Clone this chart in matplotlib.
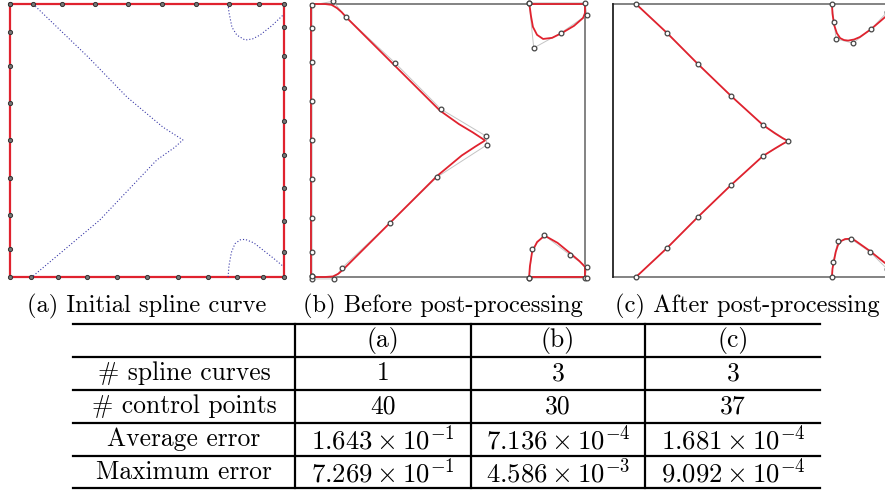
import matplotlib
matplotlib.use("Agg")
from matplotlib import pyplot as plt

plt.rcParams['font.family'] = ['cmr10', 'DejaVu Serif']
plt.rcParams['mathtext.fontset'] = 'cm'
plt.rcParams['axes.formatter.use_mathtext'] = True

# ---- panel (a): initial control polygon (on the square) and spline curve
a_ctrl_x = [0, 0.084, 0.19, 0.31, 0.431, 0.555, 0.679, 0.799, 0.909, 1.0,
            1, 1, 1, 1, 1, 1, 1, 1,
            1.0, 0.923, 0.828, 0.723, 0.613, 0.5, 0.39, 0.281, 0.175, 0.077, 0,
            0, 0, 0, 0, 0, 0, 0, 0]
a_ctrl_y = [1, 1, 1, 1, 1, 1, 1, 1, 1, 1,
            0.916, 0.81, 0.692, 0.571, 0.447, 0.326, 0.205, 0.092,
            0, 0, 0, 0, 0, 0, 0, 0, 0, 0, 0,
            0.103, 0.227, 0.363, 0.502, 0.637, 0.773, 0.897, 1]

a_curve_v_x = [0.084, 0.285, 0.427, 0.558, 0.60, 0.631, 0.60, 0.536, 0.328, 0.080]
a_curve_v_y = [1.0, 0.806, 0.659, 0.549, 0.522, 0.502, 0.474, 0.429, 0.209, 0.0]
a_curve_tr_x = [0.796, 0.799, 0.810, 0.828, 0.858, 0.885, 0.912, 0.955, 0.996]
a_curve_tr_y = [1.0, 0.97, 0.915, 0.886, 0.868, 0.872, 0.886, 0.92, 0.959]
a_curve_br_x = [0.796, 0.799, 0.808, 0.821, 0.840, 0.858, 0.890, 0.923, 0.960, 0.996]
a_curve_br_y = [0.0, 0.04, 0.09, 0.122, 0.136, 0.138, 0.125, 0.099, 0.07, 0.04]

# ---- panel (b): before post-processing
b_ctrl_main_x = [0.004, 0.004, 0.004, 0.004, 0.004, 0.004, 0.004, 0.004, 0.004,
                 0.080, 0.128, 0.307, 0.474, 0.639, 0.642, 0.460, 0.288, 0.113, 0.084,
                 0.004, 0.004]
b_ctrl_main_y = [0.004, 0.092, 0.216, 0.359, 0.502, 0.645, 0.788, 0.912, 0.996,
                 1.01, 0.952, 0.784, 0.615, 0.516, 0.484, 0.366, 0.198, 0.033, -0.007,
                 -0.007, 0.004]
b_ctrl_tr_x = [0.796, 0.813, 0.912, 1.007, 1.0, 0.796]
b_ctrl_tr_y = [1.004, 0.839, 0.894, 0.960, 1.004, 1.004]
b_ctrl_br_x = [0.796, 0.807, 0.850, 0.945, 1.007, 1.0, 1.007, 0.796]
b_ctrl_br_y = [-0.004, 0.103, 0.154, 0.081, 0.037, -0.004, -0.004, -0.004]

b_curve_main_x = [0, 0, 0.05, 0.075, 0.095, 0.112, 0.13, 0.30, 0.47, 0.54, 0.59, 0.625, 0.635,
                  0.60, 0.55, 0.46, 0.29, 0.12, 0.10, 0.08, 0.05, 0]
b_curve_main_y = [0, 1.0, 1.0, 0.997, 0.985, 0.97, 0.95, 0.78, 0.61, 0.56, 0.53, 0.507, 0.50,
                  0.478, 0.445, 0.37, 0.20, 0.03, 0.012, 0.002, 0.0, 0]
b_curve_tr_x = [0.796, 0.799, 0.803, 0.810, 0.825, 0.847, 0.880, 0.916, 0.960, 0.993, 1.0, 1.0, 0.796]
b_curve_tr_y = [1.0, 0.985, 0.955, 0.916, 0.887, 0.872, 0.876, 0.894, 0.92, 0.949, 0.967, 1.0, 1.0]
b_curve_br_x = [0.796, 0.799, 0.807, 0.825, 0.845, 0.861, 0.900, 0.945, 0.980, 1.0, 1.0, 0.796]
b_curve_br_y = [0.0, 0.04, 0.092, 0.128, 0.145, 0.147, 0.125, 0.088, 0.058, 0.037, 0.0, 0.0]

# ---- panel (c): after post-processing
c_ctrl_main_x = [0.084, 0.197, 0.310, 0.431, 0.547, 0.639, 0.547, 0.431, 0.310, 0.197, 0.084]
c_ctrl_main_y = [1.0, 0.894, 0.780, 0.663, 0.557, 0.498, 0.443, 0.337, 0.220, 0.106, 0.0]
c_ctrl_tr_x = [0.799, 0.807, 0.814, 0.876, 0.942, 1.0]
c_ctrl_tr_y = [1.0, 0.934, 0.872, 0.857, 0.908, 0.97]
c_ctrl_br_x = [0.799, 0.803, 0.821, 0.869, 0.938, 1.0]
c_ctrl_br_y = [0.0, 0.055, 0.132, 0.139, 0.092, 0.03]

c_curve_main_x = [0.084, 0.197, 0.310, 0.431, 0.547, 0.59, 0.62, 0.639,
                  0.62, 0.59, 0.547, 0.431, 0.310, 0.197, 0.084]
c_curve_main_y = [1.0, 0.894, 0.780, 0.663, 0.557, 0.527, 0.508, 0.498,
                  0.488, 0.47, 0.443, 0.337, 0.220, 0.106, 0.0]
c_curve_tr_x = [0.799, 0.801, 0.807, 0.817, 0.829, 0.843, 0.858, 0.880, 0.901, 0.942, 0.993]
c_curve_tr_y = [1.0, 0.965, 0.923, 0.893, 0.875, 0.868, 0.866, 0.870, 0.879, 0.908, 0.952]
c_curve_br_x = [0.799, 0.801, 0.807, 0.813, 0.821, 0.833, 0.847, 0.865, 0.883, 0.938, 0.993]
c_curve_br_y = [0.0, 0.03, 0.062, 0.092, 0.117, 0.132, 0.139, 0.140, 0.134, 0.095, 0.051]

captions = ["(a) Initial spline curve", "(b) Before post-processing", "(c) After post-processing"]

# ---- table
col_labels = ["(a)", "(b)", "(c)"]
row_labels = ["# spline curves", "# control points", "Average error", "Maximum error"]
cells = [["1", "3", "3"],
         ["40", "30", "37"],
         [r"$1.643\times10^{-1}$", r"$7.136\times10^{-4}$", r"$1.681\times10^{-4}$"],
         [r"$7.269\times10^{-1}$", r"$4.586\times10^{-3}$", r"$9.092\times10^{-4}$"]]

RED = '#e0222e'
BLUE = '#3a3aa8'
FRAME = '#7a7a7a'
POLY = '#c4c4c4'

fig = plt.figure(figsize=(8.85, 4.93), dpi=100)
W, H = 885.0, 493.0
panel_left = [10, 311, 613]


def make_panel(px):
    ax = fig.add_axes([px / W, 1 - 277 / H, 274 / W, 273 / H])
    ax.set_xlim(0, 1)
    ax.set_ylim(0, 1)
    ax.axis('off')
    return ax


def frame(ax, left_color=FRAME):
    ax.plot([0, 1, 1, 0], [1, 1, 0, 0], color=FRAME, lw=1.3, clip_on=False)
    ax.plot([0, 0], [0, 1], color=left_color, lw=1.3, clip_on=False)


def ctrl(ax, xs, ys, poly=True):
    if poly:
        ax.plot(xs, ys, color=POLY, lw=0.7, clip_on=False, zorder=2)
    ax.plot(xs, ys, ls='none', marker='o', ms=3.4, mfc='white', mec='#444444',
            mew=0.9, clip_on=False, zorder=4)


axa = make_panel(panel_left[0])
axa.plot(a_ctrl_x, a_ctrl_y, color=RED, lw=1.6, clip_on=False, zorder=2)
axa.plot(a_ctrl_x, a_ctrl_y, ls='none', marker='o', ms=3.0, mfc='#777777',
         mec='#333333', mew=0.7, clip_on=False, zorder=4)
for xs, ys in [(a_curve_v_x, a_curve_v_y), (a_curve_tr_x, a_curve_tr_y), (a_curve_br_x, a_curve_br_y)]:
    axa.plot(xs, ys, color=BLUE, lw=0.8, ls=(0, (1, 1.8)), clip_on=False, zorder=3)

axb = make_panel(panel_left[1])
frame(axb)
for xs, ys in [(b_curve_main_x, b_curve_main_y), (b_curve_tr_x, b_curve_tr_y), (b_curve_br_x, b_curve_br_y)]:
    axb.plot(xs, ys, color=RED, lw=1.3, clip_on=False, zorder=3)
for xs, ys in [(b_ctrl_main_x, b_ctrl_main_y), (b_ctrl_tr_x, b_ctrl_tr_y), (b_ctrl_br_x, b_ctrl_br_y)]:
    ctrl(axb, xs, ys)

axc = make_panel(panel_left[2])
frame(axc, left_color='#222222')
for xs, ys in [(c_curve_main_x, c_curve_main_y), (c_curve_tr_x, c_curve_tr_y), (c_curve_br_x, c_curve_br_y)]:
    axc.plot(xs, ys, color=RED, lw=1.3, clip_on=False, zorder=3)
for xs, ys in [(c_ctrl_main_x, c_ctrl_main_y), (c_ctrl_tr_x, c_ctrl_tr_y), (c_ctrl_br_x, c_ctrl_br_y)]:
    ctrl(axc, xs, ys)

# overlay in pixel coordinates for captions and table
ov = fig.add_axes([0, 0, 1, 1])
ov.set_xlim(0, W)
ov.set_ylim(H, 0)
ov.axis('off')

cap_fs = 17.7
fs = 18.4
math_fs = 19.3
for cx, txt in zip([147, 443, 747], captions):
    ov.text(cx, 306, txt, ha='center', va='center', fontsize=cap_fs)

row_lines = [324, 357, 390, 423, 456, 488]
col_lines = [295, 471, 645]
for y in row_lines:
    ov.plot([73, 820], [y, y], color='black', lw=1.6)
for x in col_lines:
    ov.plot([x, x], [row_lines[0], row_lines[-1]], color='black', lw=1.6)

col_centers = [383, 558, 733]
for cx, lab in zip(col_centers, col_labels):
    ov.text(cx, 340, lab, ha='center', va='center', fontsize=fs)
for i, lab in enumerate(row_labels):
    yc = (row_lines[i + 1] + row_lines[i + 2]) / 2
    ov.text(184, yc, lab, ha='center', va='center', fontsize=fs)
    for cx, val in zip(col_centers, cells[i]):
        size = math_fs if val.startswith('$') else fs
        ov.text(cx, yc, val, ha='center', va='center', fontsize=size)

fig.savefig('out.png', dpi=100)
